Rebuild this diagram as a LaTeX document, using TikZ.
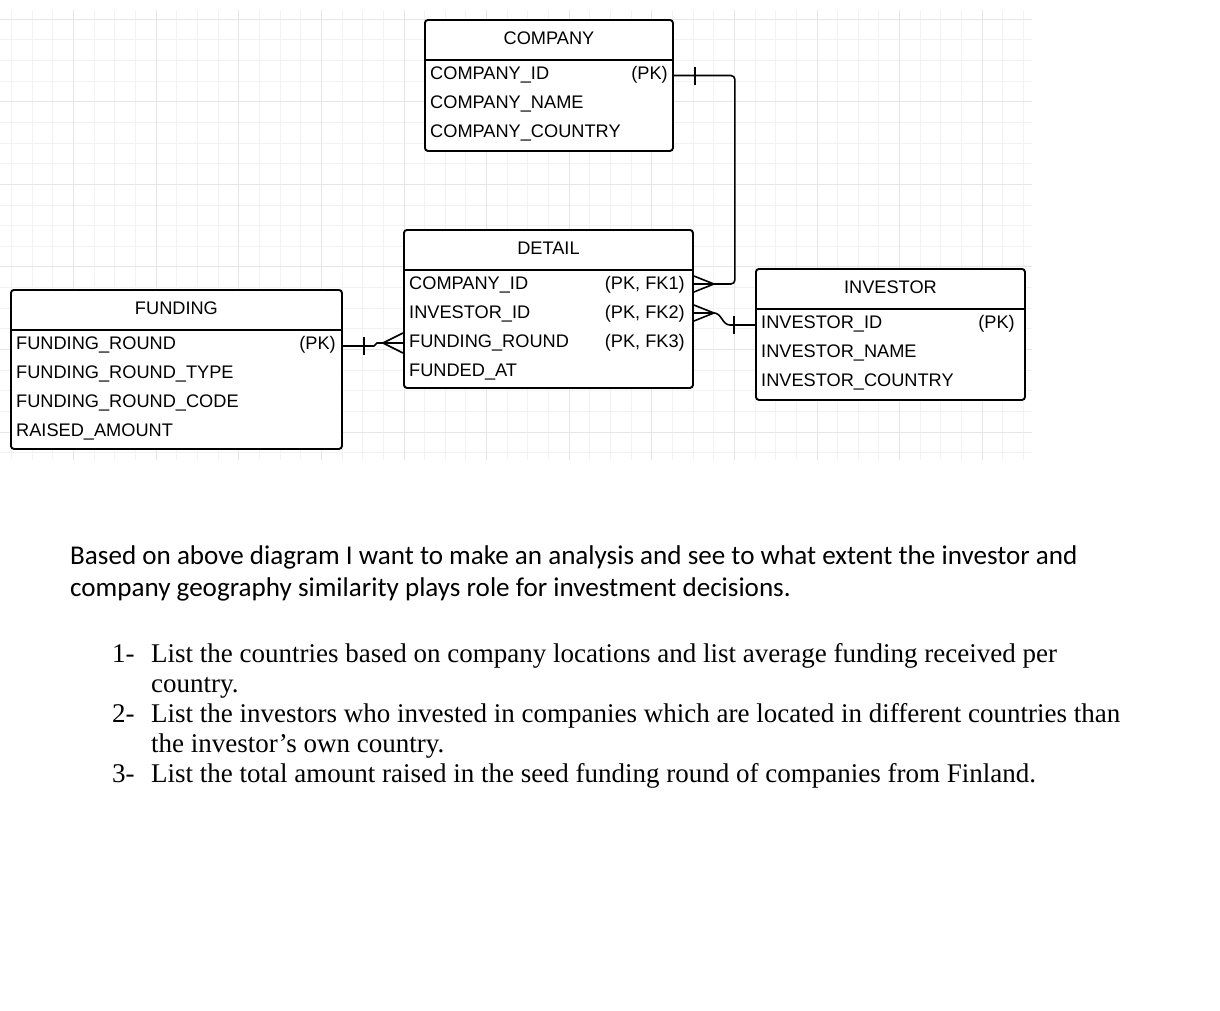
\documentclass[tikz,border=0pt]{standalone}
\usepackage{fontspec}
\usepackage{tikz}
\usetikzlibrary{positioning,calc}
\newfontfamily\erfont{Liberation Sans}
\newfontfamily\notefont{Carlito}
\newfontfamily\listfont{Liberation Serif}
\definecolor{gridmin}{HTML}{F2F2F2}
\definecolor{gridmaj}{HTML}{E6E6E6}
\tikzset{
  tbl/.style={rectangle, rounded corners=3pt, draw=black, line width=1.9pt, anchor=north west,
              inner sep=0pt},
  ttl/.style={anchor=base, inner sep=0pt, font=\erfont\fontsize{18.2}{20}\selectfont},
  fld/.style={anchor=base west, inner sep=0pt, font=\erfont\fontsize{18.2}{20}\selectfont},
  keyc/.style={anchor=base east, inner sep=0pt, font=\erfont\fontsize{18.2}{20}\selectfont},
  rel/.style={line width=1.6pt, draw=black},
  note/.style={anchor=base west, inner sep=0pt, font=\notefont\fontsize{27.1}{30}\selectfont},
  qline/.style={anchor=base west, inner sep=0pt, font=\listfont\fontsize{27}{30}\selectfont},
}

\begin{document}
\begin{tikzpicture}[x=1pt, y=-1pt]
  \fill[white] (0,0) rectangle (1220,1010);
  \useasboundingbox (0,0) rectangle (1220,1010);
  \foreach \k in {0,...,49} \draw[gridmin, line width=0.7pt] ({11.5+20.65*\k},10) -- ({11.5+20.65*\k},460);
  \foreach \k in {0,...,21} \draw[gridmin, line width=0.7pt] (0,{19+20.65*\k}) -- (1032,{19+20.65*\k});
  \foreach \k in {3,7,...,47} \draw[gridmaj, line width=0.7pt] ({11.5+20.65*\k},10) -- ({11.5+20.65*\k},460);
  \foreach \k in {0,4,...,20} \draw[gridmaj, line width=0.7pt] (0,{19+20.65*\k}) -- (1032,{19+20.65*\k});

  \node[tbl, fill=white, minimum width=248pt, minimum height=131pt] (company) at (424,19) {};
  \draw[line width=1.9pt] ([yshift=-41pt]company.north west) -- ([yshift=-41pt]company.north east);
  \node[ttl] (ct) at ([yshift=-25pt]company.north) {COMPANY};
  \node[fld] (c1) at ([xshift=6pt,yshift=-60pt]company.north west) {COMPANY\_ID};
  \node[fld] (c2) at ([yshift=-29pt]c1.base west) {COMPANY\_NAME};
  \node[fld] (c3) at ([yshift=-29pt]c2.base west) {COMPANY\_COUNTRY};
  \node[keyc] (ck1) at ([xshift=-6pt]company.east |- c1.base) {(PK)};

  \node[tbl, fill=white, minimum width=289pt, minimum height=158pt] (detail) at (403,229) {};
  \draw[line width=1.9pt] ([yshift=-41pt]detail.north west) -- ([yshift=-41pt]detail.north east);
  \node[ttl] (dt) at ([yshift=-25pt]detail.north) {DETAIL};
  \node[fld] (d1) at ([xshift=6pt,yshift=-60pt]detail.north west) {COMPANY\_ID};
  \node[fld] (d2) at ([yshift=-29pt]d1.base west) {INVESTOR\_ID};
  \node[fld] (d3) at ([yshift=-29pt]d2.base west) {FUNDING\_ROUND};
  \node[fld] (d4) at ([yshift=-29pt]d3.base west) {FUNDED\_AT};
  \node[keyc] (dk1) at ([xshift=-9pt]detail.east |- d1.base) {(PK, FK1)};
  \node[keyc] (dk2) at ([xshift=-9pt]detail.east |- d2.base) {(PK, FK2)};
  \node[keyc] (dk3) at ([xshift=-9pt]detail.east |- d3.base) {(PK, FK3)};

  \node[tbl, fill=white, minimum width=269pt, minimum height=131pt] (investor) at (755,268) {};
  \draw[line width=1.9pt] ([yshift=-41pt]investor.north west) -- ([yshift=-41pt]investor.north east);
  \node[ttl] (it) at ([yshift=-25pt]investor.north) {INVESTOR};
  \node[fld] (i1) at ([xshift=6pt,yshift=-60pt]investor.north west) {INVESTOR\_ID};
  \node[fld] (i2) at ([yshift=-29pt]i1.base west) {INVESTOR\_NAME};
  \node[fld] (i3) at ([yshift=-29pt]i2.base west) {INVESTOR\_COUNTRY};
  \node[keyc] (ik1) at ([xshift=-11pt]investor.east |- i1.base) {(PK)};

  \node[tbl, fill=white, minimum width=331pt, minimum height=159pt] (funding) at (10,289) {};
  \draw[line width=1.9pt] ([yshift=-41pt]funding.north west) -- ([yshift=-41pt]funding.north east);
  \node[ttl] (ft) at ([yshift=-25pt]funding.north) {FUNDING};
  \node[fld] (f1) at ([xshift=6pt,yshift=-60pt]funding.north west) {FUNDING\_ROUND};
  \node[fld] (f2) at ([yshift=-29pt]f1.base west) {FUNDING\_ROUND\_TYPE};
  \node[fld] (f3) at ([yshift=-29pt]f2.base west) {FUNDING\_ROUND\_CODE};
  \node[fld] (f4) at ([yshift=-29pt]f3.base west) {RAISED\_AMOUNT};
  \node[keyc] (fk1) at ([xshift=-7pt]funding.east |- f1.base) {(PK)};

  \coordinate (cr) at ([yshift=3.5pt]c1.base);
  \coordinate (dr1) at ([yshift=5pt]d1.base);
  \coordinate (v1) at ([xshift=20pt]detail.east |- dr1);
  \draw[rel, rounded corners=4pt] (company.east |- cr) -- ([xshift=61pt]company.east |- cr) |- (v1);
  \draw[rel] ([xshift=21pt,yshift=9pt]company.east |- cr) -- ([xshift=21pt,yshift=-9pt]company.east |- cr);
  \draw[rel] ([yshift=8pt]detail.east |- v1) -- (v1) -- ([yshift=-8pt]detail.east |- v1);
  \draw[rel] (detail.east |- v1) -- (v1);

  \coordinate (ir) at ([yshift=3pt]i1.base);
  \coordinate (dr2) at ([yshift=5pt]d2.base);
  \coordinate (v2) at ([xshift=20pt]detail.east |- dr2);
  \draw[rel] (v2) to[out=0, in=180] ([xshift=-25pt]investor.west |- ir) -- (investor.west |- ir);
  \draw[rel] ([xshift=-21pt,yshift=9pt]investor.west |- ir) -- ([xshift=-21pt,yshift=-9pt]investor.west |- ir);
  \draw[rel] ([yshift=8pt]detail.east |- v2) -- (v2) -- ([yshift=-8pt]detail.east |- v2);
  \draw[rel] (detail.east |- v2) -- (v2);

  \coordinate (fr) at ([yshift=3pt]f1.base);
  \coordinate (dr3) at ([yshift=4pt]d3.base);
  \coordinate (v3) at ([xshift=-20pt]detail.west |- dr3);
  \draw[rel] (funding.east |- fr) -- ([xshift=31pt]funding.east |- fr) to[out=0, in=180] ([xshift=-6pt]v3) -- (v3);
  \draw[rel] ([xshift=21pt,yshift=9pt]funding.east |- fr) -- ([xshift=21pt,yshift=-9pt]funding.east |- fr);
  \draw[rel] ([yshift=10pt]detail.west |- v3) -- (v3) -- ([yshift=-10pt]detail.west |- v3);
  \draw[rel] (detail.west |- v3) -- (v3);

  \node[note] (p1) at (70,564) {Based on above diagram I want to make an analysis and see to what extent the investor and};
  \node[note] (p2) at ([yshift=-32pt]p1.base west) {company geography similarity plays role for investment decisions.};

  \node[qline] (n1) at (112,662) {1-};
  \node[qline] (q1) at (151,662) {List the countries based on company locations and list average funding received per};
  \node[qline] (q1b) at ([yshift=-30.2pt]q1.base west) {country.};
  \node[qline] (q2) at ([yshift=-30.2pt]q1b.base west) {List the investors who invested in companies which are located in different countries than};
  \node[qline] (n2) at (n1.base west |- q2.base) {2-};
  \node[qline] (q2b) at ([yshift=-30.2pt]q2.base west) {the investor’s own country.};
  \node[qline] (q3) at ([yshift=-30.2pt]q2b.base west) {List the total amount raised in the seed funding round of companies from Finland.};
  \node[qline] (n3) at (n1.base west |- q3.base) {3-};
\end{tikzpicture}
\end{document}
